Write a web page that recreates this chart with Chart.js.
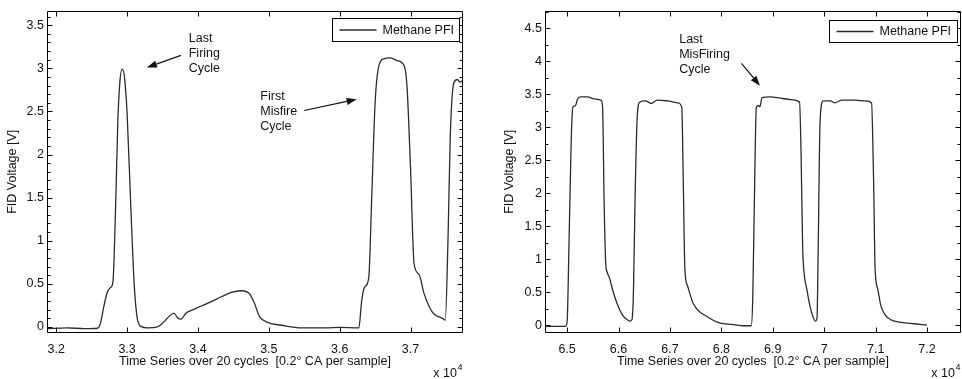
<!DOCTYPE html>
<html>
<head>
<meta charset="utf-8">
<script src="https://cdn.jsdelivr.net/npm/chart.js@4.4.0/dist/chart.umd.min.js"></script>
<style>
  html, body { margin: 0; padding: 0; background: #fff; }
  #wrap { position: relative; width: 962px; height: 379px; overflow: hidden; }
  #left, #right { position: absolute; top: 0; }
  #left { left: 0; }
  #right { left: 481px; }
</style>
</head>
<body>
<div id="wrap">
  <canvas id="left" width="481" height="379"></canvas>
  <canvas id="right" width="481" height="379"></canvas>
</div>
<script>
// left plot: last firing cycle -> first misfire (x in units of 10^4 samples)
var leftX = [3.187, 3.215, 3.240, 3.258, 3.262, 3.267, 3.272, 3.277, 3.280, 3.284, 3.287, 3.290, 3.293, 3.296, 3.300,
  3.305, 3.310, 3.314, 3.319, 3.329, 3.343, 3.352, 3.359, 3.366, 3.371, 3.376, 3.383, 3.390, 3.404, 3.418, 3.433,
  3.447, 3.461, 3.472, 3.479, 3.487, 3.499, 3.518, 3.546, 3.580, 3.600, 3.627, 3.631, 3.635, 3.641, 3.645, 3.650,
  3.655, 3.662, 3.671, 3.681, 3.691, 3.695, 3.700, 3.705, 3.712, 3.719, 3.731, 3.745, 3.749, 3.753, 3.756, 3.761,
  3.766, 3.770, 3.774];
var leftY = [-0.02, -0.01, -0.02, -0.015, 0.03, 0.23, 0.40, 0.46, 0.52, 1.45, 2.40, 2.86, 2.99, 2.92, 2.48,
  1.45, 0.50, 0.12, 0.01, -0.01, 0.00, 0.06, 0.12, 0.16, 0.11, 0.09, 0.16, 0.19, 0.24, 0.29, 0.35,
  0.40, 0.42, 0.39, 0.29, 0.12, 0.05, 0.02, -0.01, -0.01, -0.005, -0.01, 0.30, 0.46, 0.57, 1.45, 2.60,
  3.02, 3.11, 3.12, 3.09, 3.03, 2.79, 1.83, 0.73, 0.61, 0.39, 0.17, 0.10, 0.08, 1.07, 2.20, 2.83,
  2.87, 2.84, 2.86];
var leftXTicks = [3.2, 3.3, 3.4, 3.5, 3.6, 3.7];
var leftYTicks = [0, 0.5, 1, 1.5, 2, 2.5, 3, 3.5];

// right plot: misfiring cycles
var rightX = [6.457, 6.480, 6.497, 6.500, 6.504, 6.508, 6.511, 6.514, 6.517, 6.520, 6.526, 6.540, 6.552, 6.566,
  6.569, 6.572, 6.575, 6.578, 6.583, 6.589, 6.597, 6.607, 6.617, 6.622, 6.626, 6.629, 6.632, 6.636, 6.641, 6.652,
  6.664, 6.675, 6.695, 6.716, 6.723, 6.726, 6.729, 6.734, 6.745, 6.758, 6.772, 6.785, 6.798, 6.820, 6.840, 6.858,
  6.861, 6.864, 6.868, 6.872, 6.875, 6.879, 6.895, 6.915, 6.935, 6.952, 6.955, 6.958, 6.961, 6.966, 6.972, 6.978,
  6.983, 6.986, 6.988, 6.992, 6.998, 7.012, 7.020, 7.035, 7.060, 7.080, 7.092, 7.096, 7.099, 7.104, 7.110, 7.118,
  7.130, 7.150, 7.175, 7.200];
var rightY = [-0.02, -0.02, -0.02, 0.05, 1.36, 2.80, 3.30, 3.32, 3.34, 3.42, 3.46, 3.46, 3.43, 3.41,
  3.30, 1.85, 0.95, 0.80, 0.70, 0.52, 0.33, 0.16, 0.08, 0.06, 0.08, 0.50, 1.85, 3.10, 3.38, 3.40,
  3.36, 3.41, 3.40, 3.37, 3.30, 2.14, 0.85, 0.60, 0.33, 0.20, 0.13, 0.07, 0.03, 0.01, -0.01, -0.01,
  0.40, 1.80, 3.30, 3.33, 3.31, 3.45, 3.46, 3.44, 3.42, 3.38, 2.60, 1.20, 0.78, 0.55, 0.30, 0.13,
  0.06, 0.10, 1.00, 3.10, 3.40, 3.40, 3.37, 3.41, 3.41, 3.40, 3.37, 2.20, 0.85, 0.55, 0.30, 0.16,
  0.08, 0.04, 0.02, 0.00];
var rightXTicks = [6.5, 6.6, 6.7, 6.8, 6.9, 7, 7.1, 7.2];
var rightYTicks = [0, 0.5, 1, 1.5, 2, 2.5, 3, 3.5, 4, 4.5];

var seriesLabel = 'Methane PFI';
var xTitle = 'Time Series over 20 cycles  [0.2\u00b0 CA per sample]';
var yTitle = 'FID Voltage [V]';

var FONT = "'Liberation Sans', Arial, Helvetica, sans-serif";
var FS = 12.5;
var INK = '#111';

function points(xs, ys) {
  return xs.map(function (x, i) { return {x: x, y: ys[i]}; });
}

function arrow(ctx, x1, y1, x2, y2) {
  var ang = Math.atan2(y2 - y1, x2 - x1), len = 10, half = 3.6;
  var bx = x2 - len * Math.cos(ang), by = y2 - len * Math.sin(ang);
  ctx.beginPath();
  ctx.moveTo(x1, y1);
  ctx.lineTo(bx, by);
  ctx.stroke();
  ctx.beginPath();
  ctx.moveTo(x2, y2);
  ctx.lineTo(bx - half * Math.sin(ang), by + half * Math.cos(ang));
  ctx.lineTo(bx + half * Math.sin(ang), by - half * Math.cos(ang));
  ctx.closePath();
  ctx.fill();
}

// matlab style box, inward ticks, boxed legend, notes and the x 10^4 exponent
var matlabBox = {
  id: 'matlabBox',
  afterDraw: function (chart, args, o) {
    var ctx = chart.ctx, a = chart.chartArea;
    var sx = chart.scales.x, sy = chart.scales.y;
    var L = Math.round(a.left) + 0.5, R = Math.round(a.right) - 0.5;
    var T = Math.round(a.top) + 0.5, B = Math.round(a.bottom) - 0.5;
    ctx.save();
    ctx.strokeStyle = '#000';
    ctx.lineWidth = 1;
    ctx.beginPath();
    ctx.rect(L, T, R - L, B - T);
    o.xTicks.forEach(function (v) {
      var p = Math.round(sx.getPixelForValue(v)) + 0.5;
      ctx.moveTo(p, B); ctx.lineTo(p, B - 5);
      ctx.moveTo(p, T); ctx.lineTo(p, T + 5);
    });
    o.yTicks.forEach(function (v) {
      var p = Math.round(sy.getPixelForValue(v)) + 0.5;
      ctx.moveTo(L, p); ctx.lineTo(L + 5, p);
      ctx.moveTo(R, p); ctx.lineTo(R - 5, p);
    });
    var start = Math.ceil(sy.min / o.yMinor) * o.yMinor;
    for (var v = start; v < sy.max; v += o.yMinor) {
      var p = Math.round(sy.getPixelForValue(v)) + 0.5;
      ctx.moveTo(L, p); ctx.lineTo(L + 3, p);
      ctx.moveTo(R, p); ctx.lineTo(R - 3, p);
    }
    ctx.stroke();

    // legend
    var ds = chart.data.datasets[0];
    var lg = o.legend;
    var bx = Math.round(a.right - lg.dx - lg.w) + 0.5, by = Math.round(a.top + lg.dy) + 0.5;
    ctx.fillStyle = '#fff';
    ctx.fillRect(bx, by, lg.w, lg.h);
    ctx.strokeRect(bx, by, lg.w, lg.h);
    ctx.strokeStyle = ds.borderColor;
    ctx.lineWidth = ds.borderWidth;
    ctx.beginPath();
    ctx.moveTo(bx + 7, by + lg.h / 2);
    ctx.lineTo(bx + 44, by + lg.h / 2);
    ctx.stroke();
    ctx.fillStyle = INK;
    ctx.font = FS + 'px ' + FONT;
    ctx.textBaseline = 'middle';
    ctx.textAlign = 'left';
    ctx.fillText(ds.label, bx + 50, by + lg.h / 2 + 0.5);

    // notes with arrows
    o.notes.forEach(function (n) {
      var tx = sx.getPixelForValue(n.x), ty = sy.getPixelForValue(n.y);
      n.lines.forEach(function (s, i) { ctx.fillText(s, tx, ty + i * 15); });
      ctx.strokeStyle = '#111';
      ctx.fillStyle = '#111';
      ctx.lineWidth = 1.2;
      arrow(ctx, sx.getPixelForValue(n.from[0]), sy.getPixelForValue(n.from[1]),
        sx.getPixelForValue(n.to[0]), sy.getPixelForValue(n.to[1]));
      ctx.fillStyle = INK;
    });

    // exponent
    ctx.textAlign = 'right';
    ctx.textBaseline = 'alphabetic';
    ctx.fillText('x 10', a.right - 6, 377);
    ctx.font = '9px ' + FONT;
    ctx.textAlign = 'left';
    ctx.fillText('4', a.right - 5.5, 370);
    ctx.restore();
  }
};

function makeChart(id, xs, ys, xTicks, yTicks, box) {
  var tickFont = {family: FONT, size: FS};
  return new Chart(document.getElementById(id).getContext('2d'), {
    type: 'line',
    data: {
      datasets: [{
        label: seriesLabel,
        data: points(xs, ys),
        borderColor: '#2b2b2b',
        borderWidth: 1.3,
        pointRadius: 0,
        cubicInterpolationMode: 'monotone',
        fill: false
      }]
    },
    options: {
      responsive: false,
      animation: false,
      events: [],
      layout: {padding: {left: 0, right: box.padRight, top: box.padTop, bottom: 0}},
      scales: {
        x: {
          type: 'linear',
          min: box.xMin, max: box.xMax,
          afterBuildTicks: function (s) { s.ticks = xTicks.map(function (v) { return {value: v}; }); },
          afterFit: function (s) { s.height = 46; },
          grid: {display: false, drawTicks: false},
          border: {display: false},
          ticks: {padding: 9, color: INK, font: tickFont, maxRotation: 0, autoSkip: false,
            callback: function (v) { return String(v); }},
          title: {display: true, text: xTitle, color: INK, font: tickFont, padding: {top: 0, bottom: 9.5}}
        },
        y: {
          type: 'linear',
          min: box.yMin, max: box.yMax,
          afterBuildTicks: function (s) { s.ticks = yTicks.map(function (v) { return {value: v}; }); },
          afterFit: function (s) { s.width = box.yWidth; },
          grid: {display: false, drawTicks: false},
          border: {display: false},
          ticks: {padding: 3, color: INK, font: tickFont, autoSkip: false,
            callback: function (v) { return String(v); }},
          title: {display: true, text: yTitle, color: INK, font: tickFont, padding: {top: box.yTitlePad, bottom: 0}}
        }
      },
      plugins: {
        legend: {display: false},
        tooltip: {enabled: false},
        matlabBox: {xTicks: xTicks, yTicks: yTicks, yMinor: box.yMinor, legend: box.legend, notes: box.notes}
      }
    },
    plugins: [matlabBox]
  });
}

var leftChart = makeChart('left', leftX, leftY, leftXTicks, leftYTicks, {
  xMin: 3.187, xMax: 3.774, yMin: -0.07, yMax: 3.67,
  padRight: 18, padTop: 6, yWidth: 47, yTitlePad: 5.5, yMinor: 0.1,
  legend: {dx: 4, dy: 7, w: 127, h: 23},
  notes: [
    {x: 3.387, y: 3.34, lines: ['Last', 'Firing', 'Cycle'], from: [3.376, 3.15], to: [3.328, 3.01]},
    {x: 3.488, y: 2.67, lines: ['First', 'Misfire', 'Cycle'], from: [3.550, 2.51], to: [3.624, 2.64]}
  ]
});

var rightChart = makeChart('right', rightX, rightY, rightXTicks, rightYTicks, {
  xMin: 6.457, xMax: 7.266, yMin: -0.12, yMax: 4.77,
  padRight: 1, padTop: 3, yWidth: 64, yTitlePad: 21.5, yMinor: 0.25,
  legend: {dx: 4, dy: 9, w: 128, h: 22},
  notes: [
    {x: 6.718, y: 4.33, lines: ['Last', 'MisFiring', 'Cycle'], from: [6.839, 3.97], to: [6.875, 3.63]}
  ]
});
</script>
</body>
</html>
